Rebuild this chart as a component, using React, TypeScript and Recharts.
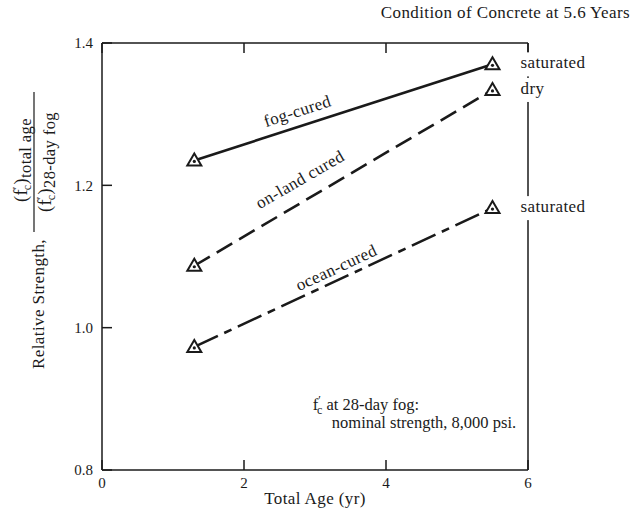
import { LineChart, Line, XAxis, YAxis, ReferenceDot } from "recharts";

// ages of the two test series (years)
const ages = [1.3, 5.5];
const fogCured = [1.235, 1.37];
const onLandCured = [1.087, 1.334];
const oceanCured = [0.973, 1.168];
const endLabels = ["saturated", "dry", "saturated"];
const xTicks = [0, 2, 4, 6];
const yTicks = [0.8, 1.0, 1.2, 1.4];

const data = ages.map((age, i) => ({
  age,
  fog: fogCured[i],
  land: onLandCured[i],
  ocean: oceanCured[i],
}));

const FONT = "'Liberation Serif', 'DejaVu Serif', serif";
const INK = "#1a1a1a";
const LS = 0.4;

function Triangle(props: any) {
  const { cx, cy } = props;
  if (cx == null || cy == null) return null;
  return (
    <g>
      <path
        d={`M${cx},${cy - 7} L${cx + 7},${cy + 5} L${cx - 7},${cy + 5} Z`}
        fill="#fff"
        stroke={INK}
        strokeWidth={2}
      />
      <circle cx={cx} cy={cy + 1} r={1.6} fill={INK} />
    </g>
  );
}

function curveText(text: string, angle: number) {
  return (props: any) => (
    <text
      x={props.cx}
      y={props.cy}
      transform={`rotate(${angle}, ${props.cx}, ${props.cy})`}
      textAnchor="middle"
      dominantBaseline="middle"
      fontFamily={FONT}
      fontSize={17}
      letterSpacing={LS}
      fill={INK}
    >
      {text}
    </text>
  );
}

function endText(text: string) {
  return (props: any) => (
    <g>
      <rect x={props.cx + 22} y={props.cy - 12} width={text.length * 8 + 12} height={24} fill="#fff" />
      <text
        x={props.cx + 28}
        y={props.cy}
        dominantBaseline="middle"
        fontFamily={FONT}
        fontSize={17}
        letterSpacing={LS}
        fill={INK}
      >
        {text}
      </text>
    </g>
  );
}

function NoteText(props: any) {
  const { cx, cy } = props;
  return (
    <text fontFamily={FONT} fontSize={16.5} fill={INK}>
      <tspan x={cx} y={cy}>f</tspan>
      <tspan dy={-6} fontSize={12}>′</tspan>
      <tspan dx={-4} dy={10} fontSize={12}>c</tspan>
      <tspan dy={-4}> at 28-day fog:</tspan>
      <tspan x={cx + 19} y={cy + 18}>nominal strength, 8,000 psi.</tspan>
    </text>
  );
}

function FracPart({ sub }: { sub: string }) {
  return (
    <>
      (f<tspan dy={-6} fontSize={12}>′</tspan>
      <tspan dx={-4} dy={10} fontSize={12}>c</tspan>
      <tspan dy={-4}>)</tspan>
      <tspan dy={4} fontSize={16.5}>{sub}</tspan>
    </>
  );
}

function YLabel() {
  return (
    <g fontFamily={FONT} fill={INK} letterSpacing={LS}>
      <text transform="translate(44,304) rotate(-90)" textAnchor="middle" fontSize={17}>
        Relative Strength,
      </text>
      <text transform="translate(27,160) rotate(-90)" textAnchor="middle" fontSize={18}>
        <FracPart sub="total age" />
      </text>
      <line x1={34} x2={34} y1={92} y2={232} stroke={INK} strokeWidth={1.2} />
      <text transform="translate(51,162) rotate(-90)" textAnchor="middle" fontSize={18}>
        <FracPart sub="28-day fog" />
      </text>
    </g>
  );
}

export default function App() {
  const tickStyle = { fontFamily: FONT, fontSize: 15, fill: INK };
  return (
    <div style={{ position: "absolute", left: 0, top: 0, width: 634, height: 508, background: "#fff" }}>
      <div
        style={{
          position: "absolute",
          right: 4,
          top: 3,
          fontFamily: FONT,
          fontSize: 17,
          letterSpacing: LS,
          color: INK,
          whiteSpace: "nowrap",
        }}
      >
        Condition of Concrete at 5.6 Years
      </div>
      <LineChart width={634} height={508} data={data} margin={{ top: 33, right: 96, bottom: 8, left: 62 }}>
        <XAxis
          xAxisId="bottom"
          dataKey="age"
          type="number"
          domain={[0, 6]}
          ticks={xTicks}
          orientation="bottom"
          height={30}
          stroke={INK}
          strokeWidth={1.5}
          tickSize={-10}
          tickMargin={17}
          tick={tickStyle}
          label={{
            value: "Total Age (yr)",
            position: "insideBottom",
            offset: -4,
            style: { ...tickStyle, fontSize: 17, letterSpacing: LS },
          }}
        />
        <XAxis
          xAxisId="top"
          dataKey="age"
          type="number"
          domain={[0, 6]}
          ticks={xTicks}
          orientation="top"
          height={10}
          stroke={INK}
          strokeWidth={1.5}
          tickSize={-10}
          tickFormatter={() => ""}
        />
        <YAxis
          yAxisId="left"
          type="number"
          domain={[0.8, 1.4]}
          ticks={yTicks}
          width={40}
          stroke={INK}
          strokeWidth={1.5}
          tickSize={-10}
          tickMargin={19}
          tick={tickStyle}
          tickFormatter={(v: number) => v.toFixed(1)}
          label={{ content: () => <YLabel /> }}
        />
        <YAxis
          yAxisId="right"
          orientation="right"
          type="number"
          domain={[0.8, 1.4]}
          ticks={yTicks}
          width={10}
          stroke={INK}
          strokeWidth={1.5}
          tickSize={-10}
          tickFormatter={() => ""}
        />
        <Line
          xAxisId="bottom"
          yAxisId="left"
          dataKey="fog"
          stroke={INK}
          strokeWidth={2.6}
          dot={<Triangle />}
          isAnimationActive={false}
        />
        <Line
          xAxisId="bottom"
          yAxisId="left"
          dataKey="land"
          stroke={INK}
          strokeWidth={2.6}
          strokeDasharray="18 8"
          dot={<Triangle />}
          isAnimationActive={false}
        />
        <Line
          xAxisId="bottom"
          yAxisId="left"
          dataKey="ocean"
          stroke={INK}
          strokeWidth={2.6}
          strokeDasharray="26 7 8 7"
          dot={<Triangle />}
          isAnimationActive={false}
        />
        <ReferenceDot xAxisId="bottom" yAxisId="left" x={2.76} y={1.302} shape={curveText("fog-cured", -18)} />
        <ReferenceDot xAxisId="bottom" yAxisId="left" x={2.8} y={1.206} shape={curveText("on-land cured", -30)} />
        <ReferenceDot xAxisId="bottom" yAxisId="left" x={3.31} y={1.082} shape={curveText("ocean-cured", -25)} />
        <ReferenceDot xAxisId="bottom" yAxisId="left" x={ages[1]} y={fogCured[1]} shape={endText(endLabels[0])} />
        <ReferenceDot xAxisId="bottom" yAxisId="left" x={ages[1]} y={onLandCured[1]} shape={endText(endLabels[1])} />
        <ReferenceDot xAxisId="bottom" yAxisId="left" x={ages[1]} y={oceanCured[1]} shape={endText(endLabels[2])} />
        <ReferenceDot xAxisId="bottom" yAxisId="left" x={2.97} y={0.884} shape={NoteText} />
      </LineChart>
    </div>
  );
}
